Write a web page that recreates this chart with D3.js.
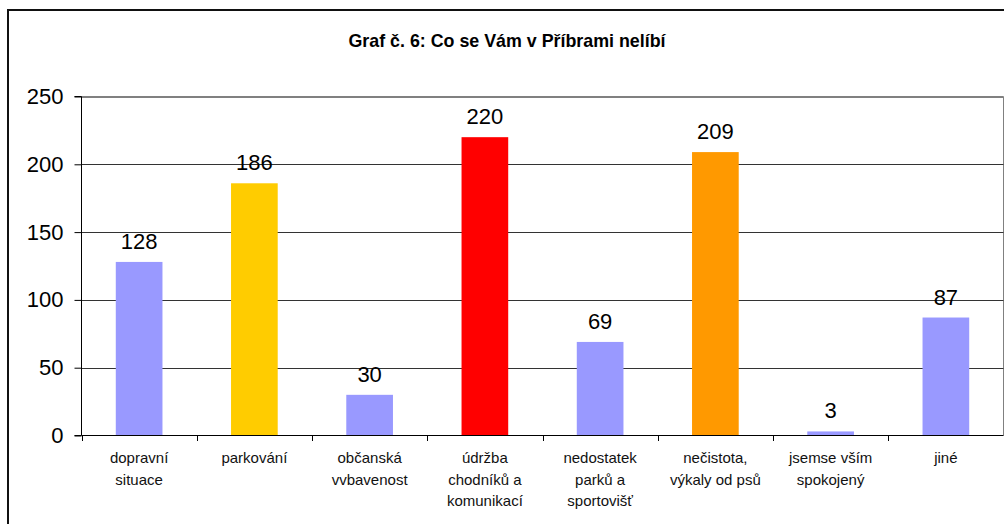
<!DOCTYPE html>
<html>
<head>
<meta charset="utf-8">
<script src="https://cdn.jsdelivr.net/npm/d3@7"></script>
<style>
  body { margin: 0; background: #fff; }
  text { font-family: Arial, "Liberation Sans", sans-serif; }
</style>
</head>
<body>
<svg id="chart" width="1004" height="524"></svg>
<script>
// data
var title = 'Graf č. 6: Co se Vám v Příbrami nelíbí';
var categories = [
    'dopravní\nsituace',
    'parkování',
    'občanská\nvvbavenost',
    'údržba\nchodníků a\nkomunikací',
    'nedostatek\nparků a\nsportovišť',
    'nečistota,\nvýkaly od psů',
    'jsemse vším\nspokojený',
    'jiné'
];
var values = [128, 186, 30, 220, 69, 209, 3, 87];
var colors = ['#9999ff', '#ffcc00', '#9999ff', '#ff0000', '#9999ff', '#ff9900', '#9999ff', '#9999ff'];
var yTicks = [0, 50, 100, 150, 200, 250];

var svg = d3.select('#chart');

// outer chart frame (runs off the right and bottom edges)
svg.append('rect')
    .attr('x', 8).attr('y', 10)
    .attr('width', 1010).attr('height', 530)
    .attr('fill', 'none')
    .attr('stroke', '#111')
    .attr('stroke-width', 2);

svg.append('text')
    .attr('x', 507).attr('y', 47)
    .attr('text-anchor', 'middle')
    .attr('font-size', 19)
    .attr('font-weight', 'bold')
    .attr('textLength', 317)
    .attr('lengthAdjust', 'spacingAndGlyphs')
    .text(title);

var x = d3.scaleBand()
    .domain(d3.range(categories.length))
    .range([81.5, 1003.5]);

var y = d3.scaleLinear()
    .domain([0, 250])
    .range([435.5, 96.5]);

// plot area border (grey)
svg.append('path')
    .attr('d', 'M81.5,96.5H1003.5V435.5')
    .attr('fill', 'none')
    .attr('stroke', '#808080');

// gridlines
svg.append('g')
    .selectAll('line')
    .data(yTicks.filter(function (d) { return d > 0; }))
    .join('line')
    .attr('x1', 81.5).attr('x2', 1003.5)
    .attr('y1', function (d) { return Math.round(y(d)) + 0.5; })
    .attr('y2', function (d) { return Math.round(y(d)) + 0.5; })
    .attr('stroke', function (d) { return d === 250 ? '#808080' : '#333'; });

// bars
var barW = x.bandwidth() * 0.405;
svg.append('g')
    .selectAll('rect')
    .data(values)
    .join('rect')
    .attr('x', function (d, i) { return x(i) + x.bandwidth() / 2 - barW / 2; })
    .attr('y', function (d) { return y(d); })
    .attr('width', barW)
    .attr('height', function (d) { return y(0) - y(d); })
    .attr('fill', function (d, i) { return colors[i]; });

// value labels
svg.append('g')
    .selectAll('text')
    .data(values)
    .join('text')
    .attr('x', function (d, i) { return x(i) + x.bandwidth() / 2; })
    .attr('y', function (d) { return y(d) - 13; })
    .attr('text-anchor', 'middle')
    .attr('font-size', 22)
    .text(function (d) { return d; });

// y axis
var yAxis = d3.axisLeft(y)
    .tickValues(yTicks)
    .tickSize(7)
    .tickPadding(11);
var gy = svg.append('g')
    .attr('transform', 'translate(81.5,0)')
    .call(yAxis);
gy.selectAll('text')
    .attr('font-size', 22)
    .attr('font-family', 'Arial, "Liberation Sans", sans-serif')
    .attr('fill', '#000');
gy.selectAll('line, path').attr('stroke', '#000');
gy.select('.domain').attr('d', 'M-7,96.5H0V435.5H-7');

// x axis line with tick marks on band boundaries
svg.append('line')
    .attr('x1', 81.5).attr('x2', 1003.5)
    .attr('y1', 435.5).attr('y2', 435.5)
    .attr('stroke', '#000');
svg.append('g')
    .selectAll('line')
    .data(d3.range(categories.length + 1))
    .join('line')
    .attr('x1', function (i) { return Math.round(81.5 + i * x.step()) + 0.5; })
    .attr('x2', function (i) { return Math.round(81.5 + i * x.step()) + 0.5; })
    .attr('y1', 435.5).attr('y2', 441)
    .attr('stroke', '#000');

// category labels
var labels = svg.append('g')
    .selectAll('text')
    .data(categories)
    .join('text')
    .attr('text-anchor', 'middle')
    .attr('font-size', 15)
    .attr('fill', '#111');
labels.each(function (d, i) {
    var t = d3.select(this);
    d.split('\n').forEach(function (line, k) {
        t.append('tspan')
            .attr('x', x(i) + x.bandwidth() / 2)
            .attr('y', 463 + k * 21.7)
            .text(line);
    });
});
</script>
</body>
</html>
